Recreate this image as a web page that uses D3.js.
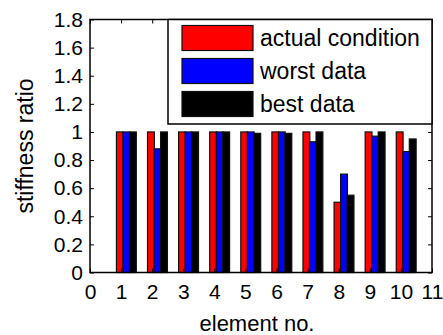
<!DOCTYPE html>
<html><head><meta charset="utf-8">
<script src="https://cdn.jsdelivr.net/npm/d3@7"></script>
<style>body{margin:0;background:#fff}svg{display:block}text{font-family:"Liberation Sans",Arial,sans-serif;fill:#000}</style>
</head><body>
<svg id="c" width="443" height="335"></svg>
<script>
const categories = [1,2,3,4,5,6,7,8,9,10];
const actualCondition = [1,1,1,1,1,1,1,0.5,1,1];
const worstData = [1,0.88,1,1,1,1,0.93,0.70,0.97,0.86];
const bestData = [1,1,1,1,0.99,0.99,1,0.55,1,0.95];
const seriesNames = ["actual condition","worst data","best data"];
const seriesColors = ["#ff0000","#0000ff","#000000"];
const xTicks = [0,1,2,3,4,5,6,7,8,9,10,11];
const yTicks = [0,0.2,0.4,0.6,0.8,1,1.2,1.4,1.6,1.8];
const yTickLabels = ["0","0.2","0.4","0.6","0.8","1","1.2","1.4","1.6","1.8"];

const svg = d3.select("#c");
const L=90,R=432,T=19.5,B=272.5;
const x = d3.scaleLinear().domain([0,11]).range([L,R]);
const y = d3.scaleLinear().domain([0,1.8]).range([B,T]);
const series=[actualCondition,worstData,bestData];
const offs=[-0.04,0.17,0.38], bw=0.22;

series.forEach((vals,si)=>{
  svg.append("g").selectAll("rect").data(categories).join("rect")
    .attr("x",(c)=>x(c+offs[si]-bw/2))
    .attr("width",(c)=>x(c+offs[si]+bw/2)-x(c+offs[si]-bw/2))
    .attr("y",(c,i)=>y(vals[i]))
    .attr("height",(c,i)=>y(0)-y(vals[i]))
    .attr("fill",seriesColors[si]).attr("stroke","#111").attr("stroke-width",1.2);
});

const fs=21;
const ax = svg.append("g").attr("transform",`translate(0,${B})`)
  .call(d3.axisBottom(x).tickValues(xTicks).tickSizeInner(-4).tickSizeOuter(0).tickPadding(12).tickFormat(d3.format("d")));
const ay = svg.append("g").attr("transform",`translate(${L},0)`)
  .call(d3.axisLeft(y).tickValues(yTicks).tickSizeInner(-4).tickSizeOuter(0).tickPadding(7).tickFormat((d,i)=>yTickLabels[i]));
const axT = svg.append("g").attr("transform",`translate(0,${T})`)
  .call(d3.axisTop(x).tickValues(xTicks).tickSizeInner(-4).tickSizeOuter(0).tickFormat(""));
const ayR = svg.append("g").attr("transform",`translate(${R},0)`)
  .call(d3.axisRight(y).tickValues(yTicks).tickSizeInner(-4).tickSizeOuter(0).tickFormat(""));
[ax,ay,axT,ayR].forEach(g=>{g.select(".domain").remove();g.selectAll("line").attr("stroke","#000");
  g.selectAll("text").attr("font-size",fs).attr("font-family","Liberation Sans, Arial, sans-serif").attr("fill","#000");});
svg.append("rect").attr("x",L).attr("y",T).attr("width",R-L).attr("height",B-T)
  .attr("fill","none").attr("stroke","#000").attr("stroke-width",1.5);

const lg = svg.append("g");
const lx0=168, ly0=T, lx1=R, ly1=124;
lg.append("rect").attr("x",lx0).attr("y",ly0).attr("width",lx1-lx0).attr("height",ly1-ly0)
  .attr("fill","#fff").attr("stroke","#000").attr("stroke-width",1.5);
const rowY=[38,71,104];
seriesNames.forEach((n,i)=>{
  lg.append("rect").attr("x",182).attr("y",rowY[i]-12.5).attr("width",71).attr("height",25)
    .attr("fill",seriesColors[i]).attr("stroke","#111").attr("stroke-width",1.2);
  lg.append("text").attr("x",260).attr("y",rowY[i]).attr("dy","0.35em").attr("font-size",23).text(n);
});

svg.append("text").attr("x",(L+R)/2-4).attr("y",331).attr("text-anchor","middle").attr("font-size",22).text("element no.");
svg.append("text").attr("transform",`translate(33,146) rotate(-90)`).attr("text-anchor","middle").attr("font-size",23).text("stiffness ratio");
</script>
</body></html>
